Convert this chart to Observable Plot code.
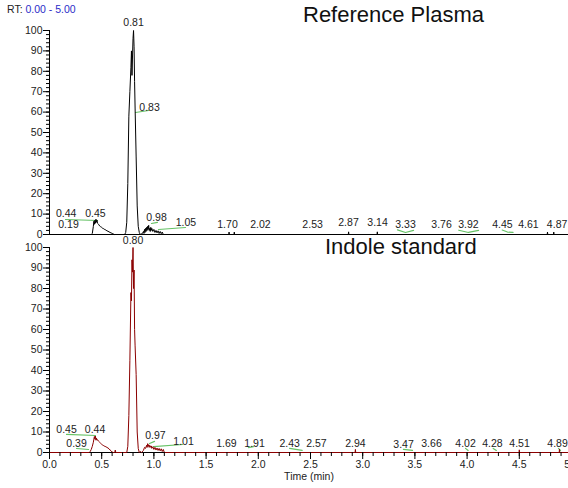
<!DOCTYPE html>
<html><head><meta charset="utf-8">
<script src="https://cdn.jsdelivr.net/npm/d3@7"></script>
<script src="https://cdn.jsdelivr.net/npm/@observablehq/plot@0.6"></script>
<style>
body{margin:0;background:#fff;}
#wrap{position:relative;width:568px;height:488px;font-family:"Liberation Sans",Arial,sans-serif;overflow:hidden;background:#fff;}
#wrap svg{position:absolute;left:0;overflow:visible;}
.t{position:absolute;white-space:nowrap;color:#111;}
</style></head><body>
<div id="wrap">
  <div class="t" style="left:7px;top:3.8px;font-size:10.5px;line-height:10.5px;color:#222">RT: <span style="color:#2b2bc8">0.00 - 5.00</span></div>
  <div class="t" id="title1" style="left:303px;top:4px;font-size:22px;line-height:22px">Reference Plasma</div>
  <div class="t" id="title2" style="left:325px;top:236.4px;font-size:22px;line-height:22px">Indole standard</div>
</div>
<script>
// ---------- Data ----------
const topTime = [0,0.40,0.41,0.42,0.425,0.43,0.435,0.44,0.445,0.45,0.455,0.46,0.47,0.48,0.49,0.50,0.51,0.52,0.53,0.54,0.55,0.56,0.57,0.58,0.59,0.60,0.61,0.62,
  0.72,0.73,0.74,0.75,0.76,0.77,0.78,0.785,0.79,0.80,0.805,0.81,0.815,0.82,0.83,0.84,0.85,0.86,0.87,
  0.89,0.90,0.905,0.91,0.915,0.92,0.925,0.93,0.935,0.94,0.945,0.95,0.955,0.96,0.965,0.97,0.975,0.98,0.99,1.00,1.01,1.02,1.03,1.04,1.05,1.06,1.07,1.08,1.09,
  1.717,1.72,1.723,1.767,1.77,1.773,2.862,2.865,2.868,3.137,3.14,3.143,4.767,4.77,4.773,4.827,4.83,4.833,5];
const topInt = [0,0,0.5,4,6.5,5,7,5.5,7.5,6,7,5.5,5,4.2,3.8,3.5,3,2.8,2.4,2.2,1.8,1.6,1.3,1.0,0.8,0.5,0.3,0,
  0,1,6,25,58,70,82,90,78,96,100,92,75,62,38,14,4,1,0,
  0.5,1.5,0.5,2.5,1,3,1.5,3.5,2,4,2.5,4.5,2,3,1.5,3.5,2,3,1.5,2.5,1,2,0.8,1.8,0.5,1.5,0.4,1.2,0,
  0,1.2,0,0,1.2,0,0,1.3,0,0,1.3,0,0,1.2,0,0,1.2,0,0];

const botTime = [0,0.38,0.39,0.40,0.41,0.42,0.425,0.43,0.435,0.44,0.445,0.45,0.455,0.46,0.47,0.48,0.49,0.50,0.51,0.52,0.53,0.54,0.55,0.56,0.57,0.58,0.59,0.60,0.61,0.625,0.63,0.635,
  0.74,0.75,0.76,0.77,0.78,0.785,0.79,0.795,0.80,0.805,0.81,0.815,0.82,0.83,0.84,0.85,0.86,0.87,0.88,
  0.90,0.91,0.92,0.93,0.935,0.94,0.945,0.95,0.955,0.96,0.97,0.975,0.98,0.99,1.00,1.01,1.02,1.03,1.04,1.05,1.06,1.07,1.08,1.09,1.10,
  2.927,2.93,2.933,4.497,4.50,4.503,4.882,4.885,4.888,5];
const botInt = [0,0,0.5,1.5,3,5,6.5,7.8,6.5,8,6,7,6,6.2,5.5,5,4.5,4,3.6,3.3,3,2.8,2.5,2.2,1.8,1.2,0.8,0.2,0,0,1.2,0,
  0,3,18,45,78,74,94,88,100,80,89,60,52,38,10,2,0,0.5,0,
  1,2.5,2,3.5,2.5,4.3,3,3.8,2.5,3.5,2.5,3.2,2,2.8,1.5,2.5,1.2,2.2,1,2,0.8,1.8,0.5,1.5,0,
  0,1.5,0,0,1.3,0,0,1.6,0,0];

// peak labels: text, label RT position, label intensity position
const topLabels    = ["0.81","0.83","0.44","0.45","0.19","0.98","1.05","1.70","2.02","2.53","2.87","3.14","3.33","3.76","3.92","4.45","4.61","4.87"];
const topLabelT    = [0.805,0.958,0.160,0.440,0.182,1.025,1.307,1.705,2.020,2.520,2.864,3.142,3.410,3.755,4.013,4.339,4.588,4.862];
const topLabelV    = [103.9,62.3,10.3,10.3,4.9,8.3,5.9,4.9,4.9,4.9,5.9,5.9,4.9,4.9,4.9,4.9,4.9,4.9];

const botLabels    = ["0.80","0.45","0.44","0.39","0.97","1.01","1.69","1.91","2.43","2.57","2.94","3.47","3.66","4.02","4.28","4.51","4.89"];
const botLabelT    = [0.800,0.163,0.436,0.259,1.015,1.284,1.695,1.964,2.300,2.557,2.931,3.391,3.659,3.985,4.243,4.502,4.866];
const botLabelV    = [103.2,11.2,11.2,4.4,8.3,5.4,4.4,4.4,4.4,4.4,4.4,3.9,4.4,4.4,4.4,4.4,4.4];

// green peak markers (polylines of [RT, intensity])
const topGreen = [
  [[0.824,59.8],[0.948,60.8]],
  [[0.153,7.35],[0.46,6.86]],
  [[0.977,5.4],[1.034,5.9]],
  [[1.044,2.45],[1.303,3.43]],
  [[3.333,2.3],[3.41,1.0],[3.487,2.0]],
  [[3.92,2.1],[4.013,1.0],[4.11,2.0]],
  [[4.336,2.2],[4.387,1.2],[4.44,1.0]]
];
const botGreen = [
  [[0.163,8.8],[0.44,8.3]],
  [[0.259,1.95],[0.374,1.46]],
  [[0.958,4.4],[1.006,5.4]],
  [[0.996,2.9],[1.274,3.9]],
  [[1.906,2.4],[1.954,2.9]],
  [[2.30,2.0],[2.42,1.0]],
  [[3.39,1.5],[3.477,1.0]],
  [[3.985,2.0],[4.01,1.0]],
  [[4.25,2.0],[4.28,1.0]],
  [[4.875,2.0],[4.895,1.0]]
];

const yMajor = d3.range(0, 101, 10);
const yMinor = d3.range(0, 101, 2);
const xMajor = d3.range(0, 11).map(i => i / 2);
const xMinor = d3.range(0, 51).map(i => i / 10);

// ---------- Drawing ----------
const FONT = "'Liberation Sans', Arial, sans-serif";
const GREEN = "#66c266";
const TXT = "#222";

function rows(T, V) { return T.map((t, i) => ({t, v: V[i]})); }
function labelRows(L, T, V) { return L.map((s, i) => ({s, t: T[i], v: V[i]})); }
function greenRows(G) { return G.flatMap((seg, k) => seg.map(([t, v]) => ({k, t, v}))); }

function panel({height, yRange, marginTop, marginBottom, T, V, color, L, LT, LV, G, xAxis}) {
  const marks = [
    Plot.ruleY([0], {stroke: "#000", strokeWidth: 1}),
    Plot.ruleX([0], {y1: 0, y2: 100, stroke: "#000", strokeWidth: 1}),
    Plot.axisY(yMinor, {anchor: "left", tickSize: 3, tickFormat: () => "", label: null, stroke: "#000"}),
    Plot.axisY(yMajor, {anchor: "left", tickSize: 6, tickPadding: 1, label: null, fill: TXT, stroke: "#000", fontSize: 10.5}),
    Plot.line(greenRows(G), {x: "t", y: "v", z: "k", stroke: GREEN, strokeWidth: 1.2}),
    Plot.line(rows(T, V), {x: "t", y: "v", stroke: color, strokeWidth: 1}),
    Plot.text(labelRows(L, LT, LV), {x: "t", y: "v", text: "s", fill: TXT, fontSize: 10.5})
  ];
  if (xAxis) {
    marks.push(
      Plot.axisX(xMinor, {anchor: "bottom", tickSize: 4, tickFormat: () => "", label: null, stroke: "#000"}),
      Plot.axisX(xMajor, {anchor: "bottom", tickSize: 7, tickPadding: 1, tickFormat: d => d.toFixed(1), label: null, fill: TXT, stroke: "#000", fontSize: 10.5}),
      Plot.text(["Time (min)"], {frameAnchor: "bottom", dy: 27, fill: TXT, fontSize: 10.5})
    );
  }
  return Plot.plot({
    width: 568, height,
    marginLeft: 49, marginRight: 0, marginTop, marginBottom,
    style: {fontFamily: FONT, fontSize: "10.5px", background: "transparent", overflow: "visible"},
    x: {domain: [0, 5], range: [49, 571], axis: null},
    y: {domain: [0, 100], range: yRange, axis: null},
    marks
  });
}

const topPanel = panel({height: 240, yRange: [234, 30], marginTop: 30, marginBottom: 6,
  T: topTime, V: topInt, color: "#000", L: topLabels, LT: topLabelT, LV: topLabelV, G: topGreen, xAxis: false});
const botPanel = panel({height: 248, yRange: [212, 7], marginTop: 7, marginBottom: 36,
  T: botTime, V: botInt, color: "#8b0000", L: botLabels, LT: botLabelT, LV: botLabelV, G: botGreen, xAxis: true});
topPanel.style.top = "0px";
botPanel.style.top = "240px";
const wrap = document.getElementById("wrap");
wrap.insertBefore(botPanel, wrap.firstChild);
wrap.insertBefore(topPanel, wrap.firstChild);
</script>
</body></html>
